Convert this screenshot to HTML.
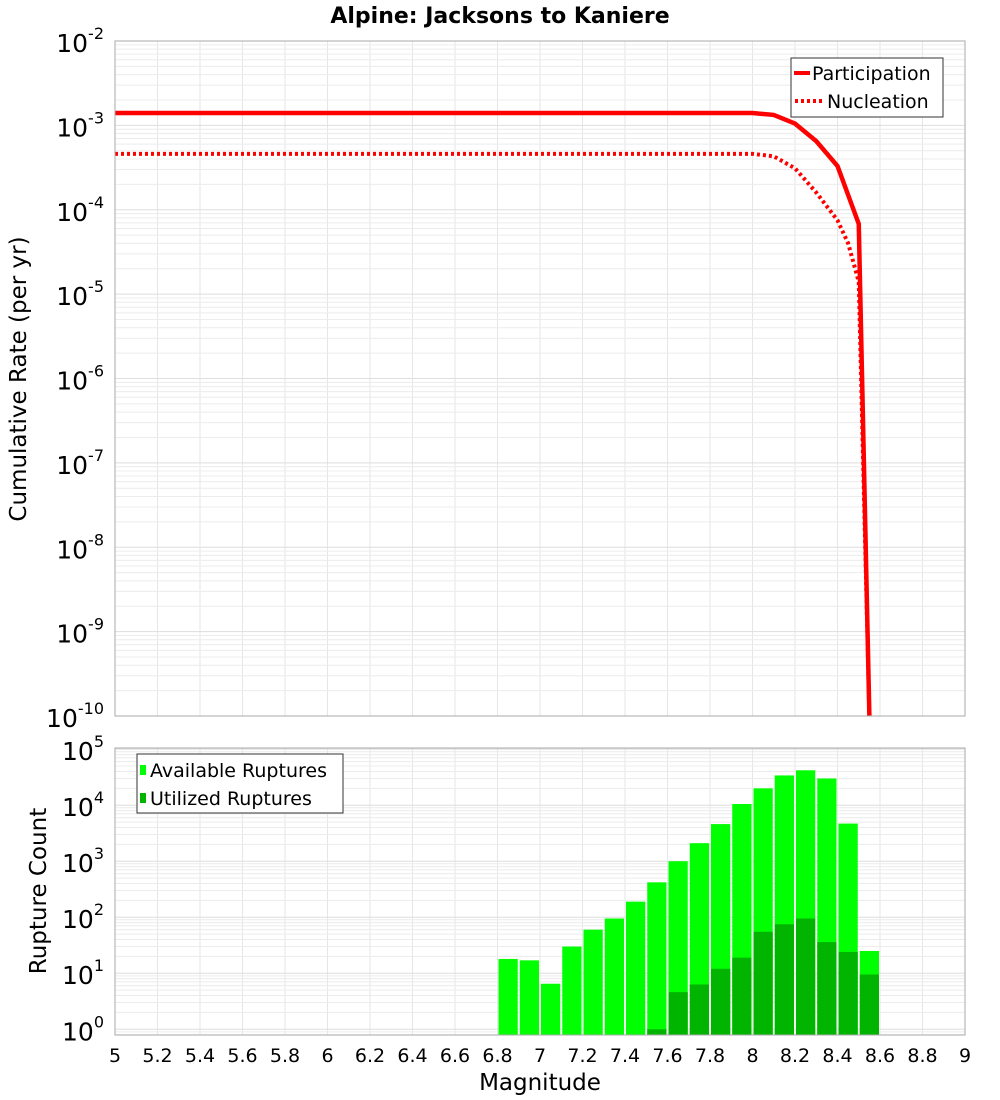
<!DOCTYPE html>
<html><head><meta charset="utf-8"><style>
body{margin:0;background:#fff;}
svg{display:block;font-family:"DejaVu Sans","Liberation Sans",sans-serif;}
</style></head><body>
<svg id="chart" width="1000" height="1100" xmlns="http://www.w3.org/2000/svg">
<text x="500" y="23" text-anchor="middle" font-size="22" font-weight="bold">Alpine: Jacksons to Kaniere</text>
<g id="topg"></g><g id="botg"></g>
<text transform="translate(26,379) rotate(-90)" text-anchor="middle" font-size="23">Cumulative Rate (per yr)</text>
<text transform="translate(46,891) rotate(-90)" text-anchor="middle" font-size="23">Rupture Count</text>
<text x="540" y="1090" text-anchor="middle" font-size="23">Magnitude</text>
</svg>
<script>
const partMags=[5.0,5.5,6.0,6.5,7.0,7.5,8.0,8.1,8.2,8.3,8.4,8.5,8.55];
const partRates=[1.4e-3,1.4e-3,1.4e-3,1.4e-3,1.4e-3,1.4e-3,1.4e-3,1.33e-3,1.05e-3,6.5e-4,3.3e-4,6.8e-5,1e-10];
const nuclMags=[5.0,5.5,6.0,6.5,7.0,7.5,8.0,8.1,8.2,8.3,8.4,8.45,8.5,8.55];
const nuclRates=[4.6e-4,4.6e-4,4.6e-4,4.6e-4,4.6e-4,4.6e-4,4.6e-4,4.3e-4,3.1e-4,1.6e-4,7.5e-5,4e-5,1.4e-5,1e-10];
const binMags=[6.85,6.95,7.05,7.15,7.25,7.35,7.45,7.55,7.65,7.75,7.85,7.95,8.05,8.15,8.25,8.35,8.45,8.55];
const available=[18,17,6.5,30,60,95,190,420,1000,2100,4600,10500,20000,34000,42000,30000,4700,25];
const utilized=[0,0,0,0,0,0,0,1.0,4.6,6.3,12,19,55,75,95,36,24,9.5];
const xTicks=[5,5.2,5.4,5.6,5.8,6,6.2,6.4,6.6,6.8,7,7.2,7.4,7.6,7.8,8,8.2,8.4,8.6,8.8,9];
const topExps=[-10,-9,-8,-7,-6,-5,-4,-3,-2];
const botExps=[0,1,2,3,4,5];

const NS="http://www.w3.org/2000/svg";
const L=115,R=965;
const x=m=>L+(m-5)/4*(R-L);
const T1=41,B1=716,T2=748,B2=1035;
const yTop=v=>B1-(Math.log10(v)+10)/8*(B1-T1);
const bMin=Math.log10(0.79),bMax=Math.log10(1.05e5);
const yBot=v=>B2-(Math.log10(v)-bMin)/(bMax-bMin)*(B2-T2);
function mk(p,tag,a){const e=document.createElementNS(NS,tag);for(const k in a)e.setAttribute(k,a[k]);p.appendChild(e);return e;}
const gTop=document.getElementById('topg'),gBot=document.getElementById('botg');

function grid(g,T,B,yf,lo,hi){
  for(const t of xTicks){const l=mk(g,'line',{x1:x(t),x2:x(t),y1:T,y2:B,stroke:'#e6e6e6'});
  
  }
  for(let e=lo;e<=hi;e++)for(let k=1;k<10;k++){const v=k*Math.pow(10,e);const yy=yf(v);if(yy<T||yy>B)continue;
    const l=mk(g,'line',{x1:L,x2:R,y1:yy,y2:yy,stroke:k==1?'#dedede':'#ececec'});
    
    }
}
grid(gTop,T1,B1,yTop,-10,-2);
grid(gBot,T2,B2,yBot,-1,5);

function expLabel(g,yy,e,name){
  const t=mk(g,'text',{x:104,y:yy+11,'text-anchor':'end','font-size':25});
  
  
  t.appendChild(document.createTextNode('10'));
  const s=mk(t,'tspan',{dy:-13,'font-size':16});
  s.textContent=String(e);
}
for(const e of topExps) expLabel(gTop,yTop(Math.pow(10,e)),e,'top-y-tick-label');
for(const e of botExps) expLabel(gBot,yBot(Math.pow(10,e)),e,'bottom-y-tick-label');
for(const t of xTicks){const s=mk(gBot,'text',{x:x(t),y:1062,'text-anchor':'middle','font-size':19});


s.textContent=String(t);}

// bars
const bw=(x(0.1)-x(0));
binMags.forEach((m,i)=>{
  const y0=yBot(available[i]);
  const r=mk(gBot,'rect',{x:x(m-0.05)+1,y:y0,width:bw-2,height:B2-y0,fill:'#00ff00'});
  
  
  if(utilized[i]>0){const y1=Math.min(yBot(utilized[i]),B2);
    const u=mk(gBot,'rect',{x:x(m-0.05)+1,y:y1,width:bw-2,height:B2-y1,fill:'#00b400'});
    
    }
});

// lines
const cp=mk(gTop,'clipPath',{id:'cp'});mk(cp,'rect',{x:L,y:T1,width:R-L,height:B1-T1});
const pl=mk(gTop,'polyline',{points:partMags.map((m,i)=>x(m)+','+yTop(partRates[i])).join(' '),fill:'none',stroke:'#ff0000','stroke-width':4.5,'clip-path':'url(#cp)'});


const nl=mk(gTop,'polyline',{points:nuclMags.map((m,i)=>x(m)+','+yTop(nuclRates[i])).join(' '),fill:'none',stroke:'#ff0000','stroke-width':4,'stroke-dasharray':'3,3','clip-path':'url(#cp)'});



// frames
const f1=mk(gTop,'rect',{x:L,y:T1,width:R-L,height:B1-T1,fill:'none',stroke:'#aaa'});


const f2=mk(gBot,'rect',{x:L,y:T2,width:R-L,height:B2-T2,fill:'none',stroke:'#aaa'});



// legends
const lg=mk(gTop,'g',{});


mk(lg,'rect',{x:791,y:58,width:152,height:59,fill:'#fff',stroke:'#333'});
mk(lg,'line',{x1:794,x2:810,y1:73,y2:73,stroke:'#f00','stroke-width':4});
mk(lg,'text',{x:812,y:80,'font-size':19}).textContent='Participation';
mk(lg,'line',{x1:795,x2:822,y1:101,y2:101,stroke:'#f00','stroke-width':4,'stroke-dasharray':'3,3'});
mk(lg,'text',{x:827,y:108,'font-size':19}).textContent='Nucleation';
const lb=mk(gBot,'g',{});


mk(lb,'rect',{x:137,y:754,width:206,height:59,fill:'#fff',stroke:'#333'});
mk(lb,'rect',{x:140,y:765,width:6,height:10,fill:'#00ff00'});
mk(lb,'text',{x:150,y:777,'font-size':19}).textContent='Available Ruptures';
mk(lb,'rect',{x:140,y:793,width:6,height:10,fill:'#00b400'});
mk(lb,'text',{x:150,y:805,'font-size':19}).textContent='Utilized Ruptures';
</script>
</body></html>
